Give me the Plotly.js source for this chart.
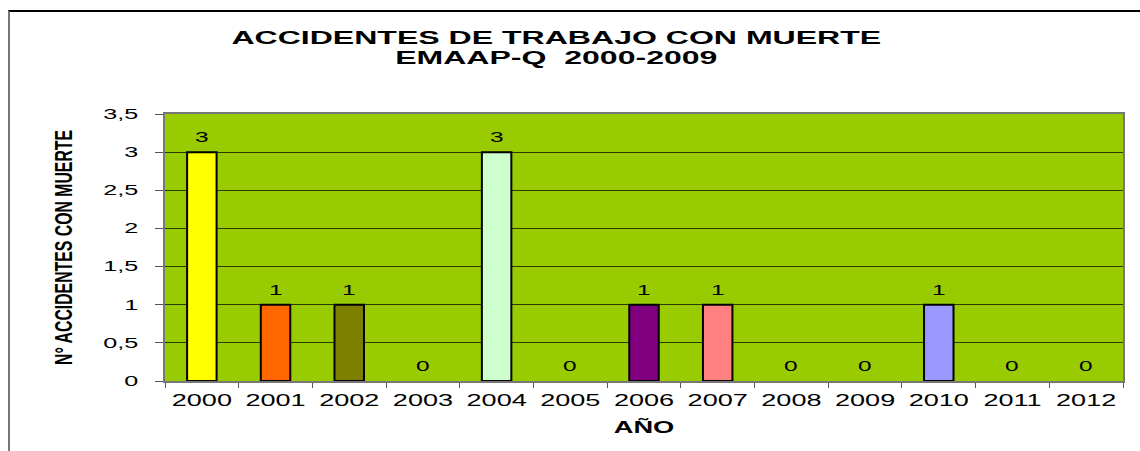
<!DOCTYPE html>
<html>
<head>
<meta charset="utf-8">
<script src="https://cdn.plot.ly/plotly-3.0.1.min.js"></script>
<style>
  body { margin: 0; background: #ffffff; }
  #wrap { position: relative; width: 1140px; height: 451px; overflow: hidden; }
  #chart { position: absolute; left: 0; top: 0; width: 1140px; height: 451px; }
  #frame { position: absolute; left: 8px; top: 10px; right: 0; bottom: 0;
           border-top: 2px solid #000; border-left: 2px solid #777; pointer-events: none; }
</style>
</head>
<body>
<div id="wrap"><div id="chart"></div><div id="frame"></div></div>
<script>
// ---- data ----
const years = ['2000','2001','2002','2003','2004','2005','2006','2007','2008','2009','2010','2011','2012'];
const accidents = [3, 1, 1, 0, 3, 0, 1, 1, 0, 0, 1, 0, 0];
const barColors = ['#FFFF00','#FF6600','#808000','#99CC00','#CCFFCC','#99CC00','#800080','#FF8080','#99CC00','#99CC00','#9999FF','#99CC00','#99CC00'];
const yTickVals = [0, 0.5, 1, 1.5, 2, 2.5, 3, 3.5];
const yTickText = ['0', '0,5', '1', '1,5', '2', '2,5', '3', '3,5'];
const titleLines = ['ACCIDENTES DE TRABAJO CON MUERTE', 'EMAAP-Q\u00a0\u00a02000-2009'];
const xTitle = 'AÑO';
const yTitle = 'N° ACCIDENTES CON MUERTE';

const FONT = 'Liberation Sans, Arial, sans-serif';

const trace = {
  type: 'bar',
  x: years,
  y: accidents,
  marker: {
    color: barColors,
    line: { color: '#000000', width: accidents.map(v => v > 0 ? 2 : 0) }
  },
  hoverinfo: 'x+y',
  showlegend: false
};

// data labels: category index on the category axis
const annotations = years.map((yr, i) => ({
  x: i, y: accidents[i], xref: 'x', yref: 'y',
  text: String(accidents[i]), showarrow: false,
  yshift: 15, yanchor: 'middle', xanchor: 'center',
  font: { family: FONT, size: 14, color: '#000' }
}));

const layout = {
  width: 1140, height: 451,
  margin: { l: 165, r: 17, t: 114, b: 70 },
  paper_bgcolor: 'rgba(0,0,0,0)',
  plot_bgcolor: '#99CC00',
  separators: ',.',
  bargap: 0.6,
  font: { family: FONT, color: '#000' },
  title: {
    text: titleLines.join('<br>'),
    xref: 'container', x: 0.488, xanchor: 'center',
    yref: 'container', y: 0.902, yanchor: 'top',
    font: { family: FONT, size: 18, weight: 'bold', color: '#000' }
  },
  xaxis: {
    type: 'category',
    range: [-0.5, years.length - 0.5],
    tickson: 'boundaries',
    tickangle: 0,
    ticks: 'outside', ticklen: 5, tickcolor: '#555', tickwidth: 1,
    showline: true, linecolor: '#777', linewidth: 2, mirror: true,
    showgrid: false,
    tickfont: { family: FONT, size: 16, color: '#000' },
    ticklabelstandoff: 4,
    title: { text: xTitle, standoff: 14, font: { family: FONT, size: 16, weight: 'bold', color: '#000' } },
    fixedrange: true
  },
  yaxis: {
    range: [0, 3.5],
    tickvals: yTickVals, ticktext: yTickText,
    ticks: 'outside', ticklen: 8, tickcolor: '#555', tickwidth: 1,
    showline: true, linecolor: '#777', linewidth: 2, mirror: true,
    showgrid: true, gridcolor: '#2a3a00', gridwidth: 1,
    zeroline: false,
    tickfont: { family: FONT, size: 14, color: '#000' },
    ticklabelstandoff: 14,
    title: { text: yTitle, standoff: 39, font: { family: FONT, size: 24, weight: 'bold', color: '#000' } },
    fixedrange: true
  },
  annotations: annotations
};

function stretchEl(el, factor, target) {
  const L = el.getComputedTextLength();
  if (!(L > 0)) return;
  const T = target ? target : L * factor;
  el.setAttribute('textLength', T.toFixed(1));
  el.setAttribute('lengthAdjust', 'spacingAndGlyphs');
}
function stretchAll(sel, factor, target) {
  document.querySelectorAll(sel).forEach(el => {
    const lines = el.querySelectorAll('tspan.line');
    if (lines.length) lines.forEach(t => stretchEl(t, factor, target));
    else stretchEl(el, factor, target);
  });
}

Plotly.newPlot('chart', [trace], layout, { displayModeBar: false, staticPlot: true }).then(() => {
  // tighter line spacing for the two-line title, as in the reference
  const tl = document.querySelectorAll('.gtitle tspan.line');
  if (tl.length > 1) tl[1].setAttribute('dy', '1.12em');
  stretchAll('.gtitle', 1.78);
  stretchAll('.xtick text', 1.69);
  stretchAll('.ytick text', 1.8);
  stretchAll('.xtitle', 1.7);
  stretchAll('.annotation-text', 1.75);
  stretchAll('.ytitle', 0, 235);
});
</script>
</body>
</html>
